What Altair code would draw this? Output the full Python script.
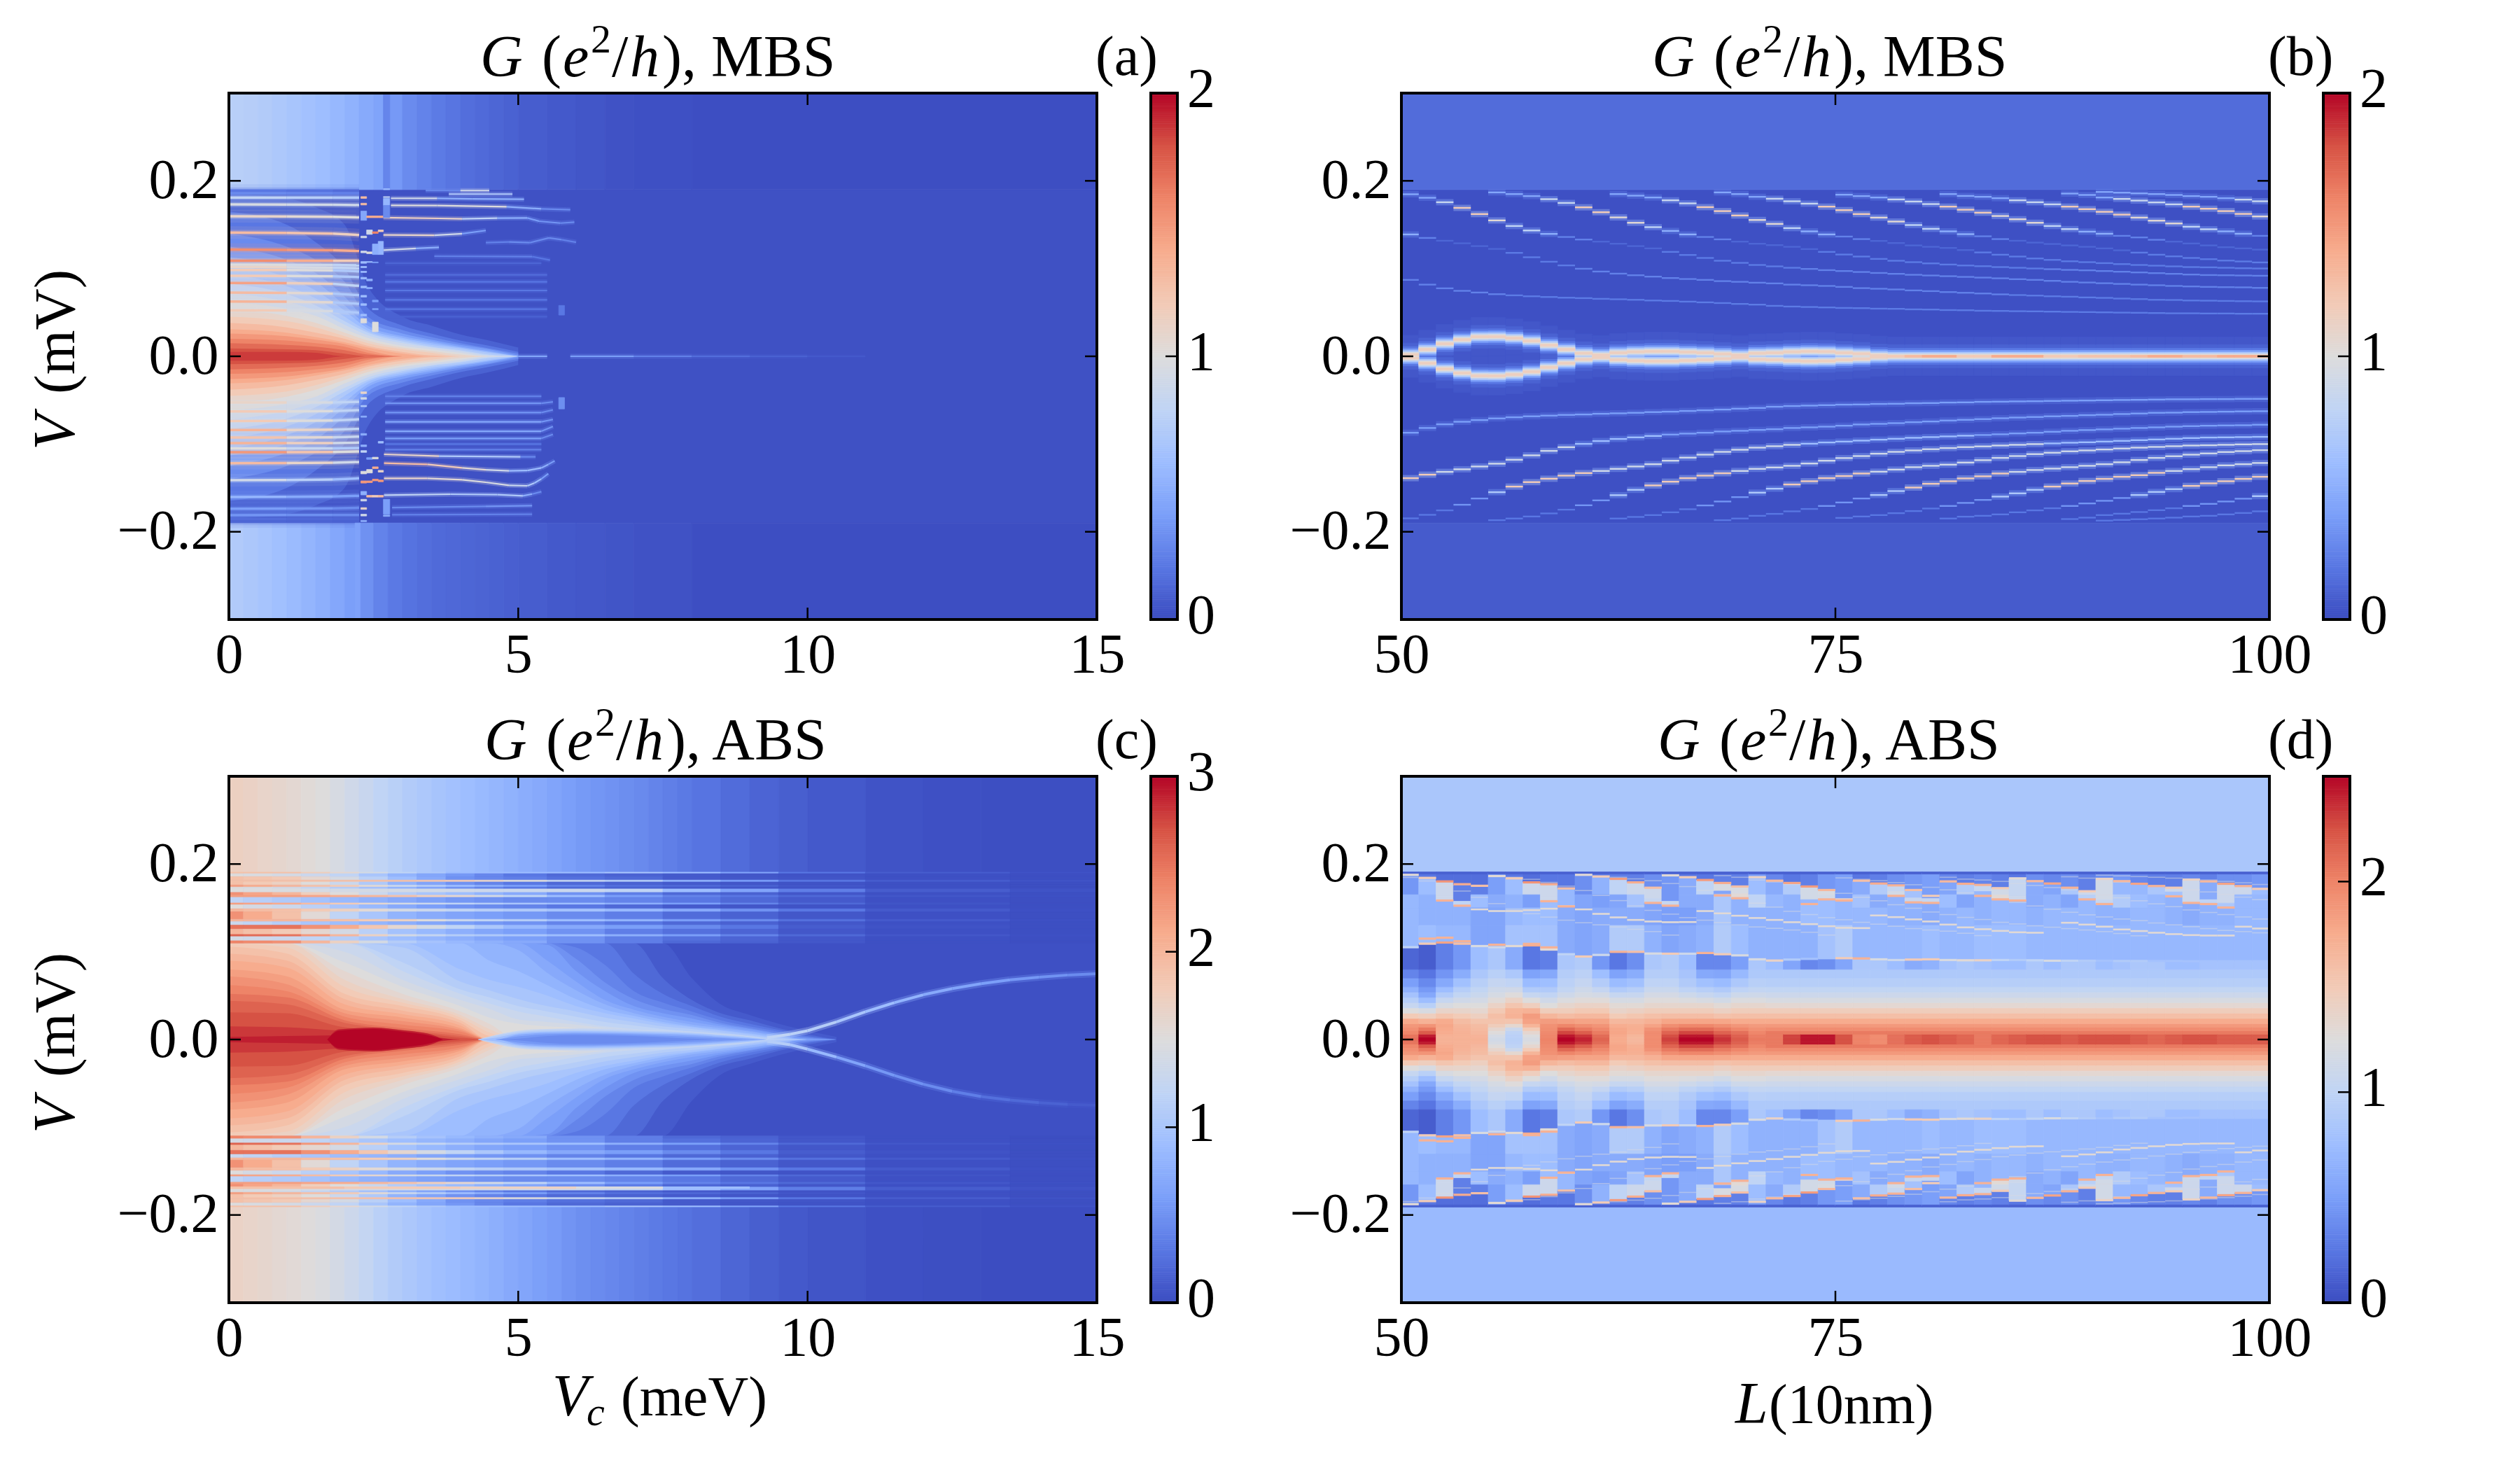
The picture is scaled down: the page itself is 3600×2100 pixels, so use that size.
import altair as alt
import pandas as pd

alt.data_transformers.disable_max_rows()

FONT = "Liberation Serif"
W, H = 1240, 752
COOL = ["#3b4cc0", "#5977e3", "#7b9ff9", "#9ebeff", "#c0d4f5", "#dddcdc",
        "#f2cbb7", "#f7ac8e", "#ee8468", "#d65244", "#b40426"]

# ---------- Panel (a) ----------
a_out_x = [0, .25, .5, .75, 1, 1.25, 1.5, 1.75, 2, 2.25, 2.5, 2.75, 3, 3.25, 3.5, 3.75, 4, 4.25, 4.5, 4.75, 5, 5.5, 6, 6.5, 7, 8, 15]
a_out_top = [.75, .74, .72, .69, .66, .63, .6, .56, .52, .47, .43, .37, .3, .26, .22, .19, .16, .14, .12, .1, .08, .06, .045, .03, .02, .01]
a_out_bot = [.71, .68, .65, .62, .58, .54, .5, .45, .4, .33, .26, .21, .18, .16, .14, .13, .12, .11, .1, .09, .08, .06, .05, .04, .03, .01]
a_iso_x = [0, 1, 1.5, 2, 2.4, 3, 3.5, 4, 4.5, 5]
a_iso = [
    (.1, [185, 180, 170, 150, 80, 45, 35, 25, 18, 10]),
    (.2, [165, 150, 130, 100, 55, 35, 26, 18, 12, 5]),
    (.3, [140, 125, 110, 85, 45, 30, 22, 15, 9, 3]),
    (.4, [125, 110, 95, 68, 40, 26, 19, 13, 8, 1]),
    (.5, [113, 100, 85, 58, 35, 23, 17, 11, 6, 0]),
    (.6, [105, 90, 75, 52, 32, 21, 15, 10, 5, 0]),
    (.7, [93, 80, 66, 45, 29, 19, 13, 9, 4, 0]),
    (.8, [83, 71, 58, 40, 27, 17, 11, 7, 2, 0]),
    (.9, [72, 62, 52, 36, 24, 15, 10, 6, 1, 0]),
    (1.0, [62, 54, 46, 31, 21, 12, 8, 4, 0, 0]),
    (1.1, [53, 46, 38, 27, 18, 10, 6, 2, 0, 0]),
    (1.2, [45, 40, 33, 23, 15, 8, 4, 0, 0, 0]),
    (1.3, [38, 33, 27, 20, 12, 5, 1, 0, 0, 0]),
    (1.4, [31, 27, 22, 16, 10, 3, 0, 0, 0, 0]),
    (1.5, [26, 23, 19, 14, 7, 0, 0, 0, 0, 0]),
    (1.6, [20, 18, 15, 11, 4, 0, 0, 0, 0, 0]),
    (1.7, [15, 13, 11, 7, 2, 0, 0, 0, 0, 0]),
    (1.8, [9, 8, 7, 3, 0, 0, 0, 0, 0, 0]),
    (1.86, [5, 5, 4, 0, 0, 0, 0, 0, 0, 0]),
]
a_left_x = [0, 1, 1.8, 2.25]
a_left = [  # V at four knots, G for three spans
    (188.9, 188.9, 188.9, 188.9, .2, .18, .15), (185.9, 185.9, 185.9, 185.9, .3, .28, .25), (180.9, 180.9, 180.9, 180.9, .8, .75, .7),
    (173.2, 173, 172.8, 172.4, .95, .92, .9), (159.6, 159.4, 159, 158.3, 1.1, 1.05, 1.0), (141, 140.6, 139.8, 138.3, 1.3, 1.25, 1.15),
    (121.6, 121.3, 120.8, 120, 1.55, 1.5, 1.4), (109, 109, 109, 108.8, 1.55, 1.4, 1.2), (104.5, 104.4, 104.2, 103.7, 1.0, .9, .8),
    (101.9, 101.6, 101, 100.3, 1.1, .95, .8), (98.4, 98.3, 98, 96.8, 1.2, 1.0, .7), (91.8, 91.6, 91.2, 90.2, 1.2, 1.0, .7),
    (83.5, 83.3, 82.5, 80.3, 1.45, 1.15, .8), (72.6, 72.3, 71.5, 69.7, 1.3, 1.05, .7), (62.5, 62.2, 61.5, 59.9, 1.35, 1.05, .7), (52.4, 52.2, 51.5, 49.7, 1.2, .95, .7),
    (-52.7, -52.7, -52.6, -51.9, 1.1, .95, .8), (-62.8, -62.8, -62.4, -61.4, 1.2, 1, .8), (-73.9, -73.7, -73.2, -71.8, 1.2, 1, .8),
    (-84, -84, -83.6, -82.7, 1.35, 1.1, .8), (-92.6, -92.6, -92.3, -91.5, 1.25, 1.05, .85), (-99, -99, -98.9, -98.4, 1.35, 1.15, .9),
    (-105, -105, -104.9, -104.5, 1.0, .85, .7), (-109.3, -109.3, -109.1, -108.5, 1.5, 1.25, 1.0), (-121.8, -121.7, -121.2, -120.5, 1.3, 1.1, .9),
    (-141.2, -141.1, -140.5, -139.1, .9, .75, .6), (-160.4, -160.2, -159.8, -159, .55, .47, .4), (-173.7, -173.6, -173.3, -172.6, .4, .35, .3),
    (-181.1, -181, -181, -180.9, .35, .32, .3), (-185.7, -185.7, -185.7, -185.7, .15, .13, .12), (-188.3, -188.3, -188.3, -188.3, .12, .11, .1),
]
a_right = [  # x knots, V knots, G for each span
    ([3.4, 4, 4.5], [188.9, 188.9, 188.9], [.3, .9]),
    ([3.8, 4.9], [184.9, 184.9], [.7]),
    ([2.8, 3.6, 4.2, 5.1], [180.1, 180, 179.5, 179], [.9, .5, .5]),
    ([2.8, 3.6, 4.8, 5.4, 5.9], [172, 171.8, 170.5, 168, 167], [1.0, 1.0, .5, .3]),
    ([2.67, 3.63, 4.03, 4.64, 5.16, 5.36, 5.73, 5.97], [158, 157.2, 156.7, 157.5, 157.7, 154, 151.8, 152.9], [1.15, 1.1, .8, .5, .4, .35, .3]),
    ([2.67, 3.55, 4.03, 4.44], [138.3, 138, 139.7, 143.4], [1.1, .9, .4]),
    ([2.67, 3.23, 3.63], [121, 122.9, 124.2], [.9, .5]),
    ([4.44, 4.84, 5.2, 5.53, 5.75, 6], [129.5, 130.3, 129.5, 134.9, 133, 130], [.25, .3, .3, .3, .25]),
    ([3.55, 5.24, 5.55], [114.1, 113.6, 109.6], [.25, .2]),
    ([2.7, 5.4], [106.1, 106.1], [.12]),
    ([2.7, 5.5], [92.8, 92.8], [.15]),
    ([2.7, 5.5], [84.9, 84.9], [.2]),
    ([2.7, 5.5], [75, 75], [.2]),
    ([2.7, 5.5], [64.4, 64.4], [.2]),
    ([2.7, 5.5], [53.7, 53.7], [.2]),
    ([2.7, 5.5], [45.2, 45.2], [.1]),
    ([2.7, 5.4], [-45.5, -45.5], [.25]),
    ([2.7, 5.4, 5.6], [-53.5, -53.5, -52], [.35, .3]),
    ([2.7, 5.4, 5.6], [-64.1, -64.1, -61], [.35, .3]),
    ([2.7, 5.4, 5.6], [-74.7, -74.7, -72], [.45, .35]),
    ([2.7, 5.4, 5.6], [-85.4, -85.4, -80], [.45, .35]),
    ([2.7, 5.4, 5.6], [-93.6, -93.6, -89], [.4, .3]),
    ([2.7, 5.4], [-100, -100], [.2]),
    ([2.7, 5.4], [-106.4, -106.4], [.25]),
    ([2.68, 3.63, 5.04, 5.3], [-111.7, -113.8, -114.6, -114.6], [1.1, .7, .3]),
    ([2.68, 3.43, 4.03, 4.44, 4.84, 5.16, 5.4, 5.52, 5.63], [-121.8, -123.2, -127.2, -129.3, -130.6, -130.1, -127.2, -123.2, -119.2], [1.3, 1.2, 1.05, .9, .6, .6, .5, .4]),
    ([2.68, 3.43, 4.03, 4.44, 4.84, 5.16, 5.28, 5.4, 5.52], [-139.1, -139.1, -140.7, -143.6, -147.1, -147.6, -144.4, -139.7, -133.8], [1.1, 1.05, 1.0, .95, .85, .7, .6, .4]),
    ([2.68, 3.83, 4.64, 5.08, 5.24, 5.4], [-158.3, -157.2, -157.7, -159.1, -157, -154.3], [.8, .7, .7, .5, .3]),
    ([2.82, 4.44, 5.24], [-172.4, -171, -170.2], [.3, .35]),
    ([2.82, 5.24], [-180.6, -180], [.25]),
    ([5, 5.5], [0, 0], [.45]),
    ([5.9, 7, 8, 9, 10, 11], [0, 0, 0, 0, 0, 0], [.4, .25, .16, .1, .06]),
]
a_patches = [  # x0, x1, V0, V1, G: the spots in the narrow columns near 2.3 to 2.8
    (2.28, 2.38, 180, 182, 1.3), (2.28, 2.38, 172.5, 174.5, 1.3), (2.28, 2.38, 155, 165.5, .45), (2.28, 2.38, 135, 137, .9),
    (2.28, 2.38, 118, 120, .9), (2.28, 2.38, 106, 108, .6), (2.28, 2.38, 101, 102.5, .6), (2.28, 2.38, 95.5, 97, .6),
    (2.28, 2.38, 88, 90, .6), (2.28, 2.38, 78, 80, .6), (2.28, 2.38, 67.5, 69.5, .6), (2.28, 2.38, 58, 60, .6), (2.28, 2.38, 46, 48, .6), (2.28, 2.38, 38, 43, 1.0),
    (2.38, 2.48, 158, 160, 1.4), (2.38, 2.48, 139, 144, .9), (2.38, 2.48, 117, 119, 1.0), (2.38, 2.48, 107, 108, .6), (2.38, 2.48, 86, 88, .5), (2.38, 2.48, 77, 78.5, .5),
    (2.48, 2.58, 158, 160, 1.4), (2.48, 2.58, 140, 142, 1.6), (2.48, 2.58, 116, 128, .5), (2.48, 2.58, 106.5, 107.5, .4), (2.48, 2.58, 62, 64, .4), (2.48, 2.58, 53, 54.5, .4), (2.48, 2.58, 28, 39, 1.0),
    (2.58, 2.67, 158, 160, 1.4), (2.58, 2.67, 142, 144, 1.2), (2.58, 2.67, 116, 131, .55),
    (2.67, 2.78, 190, 300, .27), (2.67, 2.78, 190, 191, .6), (2.67, 2.78, 181, 182, .8), (2.67, 2.78, 172, 180, .55), (2.67, 2.78, 158, 172, .3),
    (2.28, 2.38, -42.5, -40.5, 1.1), (2.28, 2.38, -49, -47, .9), (2.28, 2.38, -57.5, -56, .7), (2.28, 2.38, -69.5, -68, .5), (2.28, 2.38, -90, -88, .5),
    (2.28, 2.38, -103, -101, .5), (2.28, 2.38, -109.5, -107.5, .8), (2.28, 2.38, -134, -131, 1.0), (2.28, 2.38, -144.5, -142, 1.5), (2.28, 2.38, -158, -154, .5),
    (2.28, 2.38, -165, -163, .9), (2.28, 2.38, -174.5, -172.5, 1.1), (2.28, 2.38, -182, -180, .9), (2.28, 2.38, -188.5, -187, .5),
    (2.38, 2.48, -117.5, -115.5, .4), (2.38, 2.48, -133, -129, 1.0), (2.38, 2.48, -144, -142, 1.5), (2.38, 2.48, -160.5, -158.5, 1.3),
    (2.48, 2.58, -117, -115, 1.0), (2.48, 2.58, -128, -126, 1.4), (2.48, 2.58, -142, -140, 1.5), (2.48, 2.58, -160.5, -158.5, 1.2),
    (2.58, 2.67, -99, -97, .6), (2.58, 2.67, -132, -130, 1.1), (2.58, 2.67, -143, -141, 1.5), (2.58, 2.67, -160.5, -158.5, 1.3),
    (2.67, 2.78, -180, -163, .4), (2.67, 2.78, -182.5, -181, .5),
    (2.18, 2.27, -300, -190, .42), (5.7, 5.8, 47, 58, .2), (5.7, 5.8, -60, -47, .32),
]

# ---------- Panel (b) ----------
b_A = [87.1, 81.7, 77.5, 74.6, 72.7, 70.8, 69.5, 68.4, 67.6, 66.8, 66.3, 65.5, 65, 64.4, 63.6, 63.1, 62.3, 61.5, 60.7, 59.7, 58.9, 57.5, 56.7, 56.2, 55.7, 55.1, 54.9, 54.3, 54.1, 53.5, 53.3, 52.7, 52.5, 51.9, 51.7, 51.4, 51.2, 50.9, 50.6, 50.4, 50.1, 49.8, 49.6, 49.3, 49, 49, 48.8, 48.8, 48.5, 48.5]
b_B = [138.9, 134.9, 131.7, 128.8, 125.6, 122.4, 117.9, 112.9, 107.8, 103.6, 99.8, 96.6, 94.2, 92.4, 90.8, 89.2, 88.1, 87.1, 85.7, 84.9, 83.9, 83.1, 81.7, 81, 80.2, 79.1, 77.7, 77, 76.2, 75.1, 74.3, 73.2, 72.4, 71.6, 70.6, 69.8, 69.2, 68.4, 67.9, 67.1, 66.6, 65.8, 65.2, 64.4, 64.2, 63.6, 63.4, 63.1, 62.8, 62.6]
b_1 = [184.7, 180.7, 175.6, 169.2, 162.1, 154.9, 148.5, 143.4, 139.5, 136, 133.1, 130.7, 128.3, 125.6, 123, 119, 115.5, 112.1, 108.9, 106.5, 104.1, 102.5, 100.9, 99.6, 98.2, 97.2, 96.1, 95, 94, 92.9, 92.1, 91.3, 90.5, 89.7, 88.9, 87.9, 87.1, 86, 84.9, 84.1, 83.3, 82.5, 81.7, 81, 80.2, 79.6, 79.1, 78.8, 78.6, 78]
b_2 = [186.8, 184.9, 182.6, 179.1, 174.8, 169.8, 164.2, 158.3, 152.2, 147.2, 142.9, 138.9, 136, 133.3, 130.7, 128.3, 126.7, 124.8, 122.2, 119, 116, 113.7, 111, 108.9, 107.3, 105.9, 104.6, 103.5, 102.7, 101.7, 100.9, 100.1, 99.3, 98.5, 98, 97.2, 96.4, 95.6, 94.8, 94, 93.2, 92.6, 92.4, 92.1, 91.8]
b_3 = [184.9, 183.1, 181, 177.8, 174.3, 170, 165.5, 160.5, 155.4, 150.9, 146.1, 142.4, 138.9, 136.5, 133.6, 131.5, 129.1, 126.4, 124.8, 123.5, 121.1, 118.4, 115.8, 113.7, 111.5, 109.9, 108.3, 107.3, 106.2, 105.1, 104.1, 103.3, 102.5, 101.7, 101.4, 100.9, 100.4, 100.1]
b_4 = [186.8, 184.9, 181.8, 179.6, 176.7, 174, 170.6, 166.6, 162.1, 158.1, 153.6, 149.6, 145.3, 142.4, 139.2, 136.8, 133.6, 131.7, 129.6, 128, 126.4, 124.8, 123, 120.8, 118.2, 115.8, 113.9, 112.1, 110.7, 109.1, 108.1, 107]
b_5 = [184.2, 182.6, 181, 178.8, 176.4, 173.5, 170.6, 167.1, 163.7, 159.9, 156.2, 152.2, 148.5, 145, 142.1, 139.7, 137.3, 135.5, 132.8, 130.7, 128.6, 126.4, 124.3, 123, 121.6]
b_6 = [184.9, 182.8, 181.8, 180.2, 177.8, 175.6, 173.2, 170.6, 167.7, 164.7, 161.5, 158.1, 154.6, 151.4, 147.7, 144.8, 142.4, 139.7, 137.3]
b_7 = [185.5, 183.9, 181, 179.4, 177.5, 175.4, 173.2, 170.6, 168.2, 165.5, 162.3, 159.4]
b_8 = [187.3, 186.5, 185.7, 184.9, 183.9, 182.6, 181.8, 180.2, 178.6, 176.7]
b_levels = [(50, b_A), (50, b_B), (50, b_1), (55, b_2), (62, b_3), (68, b_4), (75, b_5), (81, b_6), (88, b_7), (90, b_8)]
# brightness read in energy bands: lower limit of band, G
b_up_bands = [(180, .45), (172, .85), (160, 1.2), (150, 1.05), (143, .8), (138, .5), (132, .25), (120, .12), (100, .22), (70, .25), (0, .22)]
b_lo_bands = [(172, .2), (160, .35), (150, .7), (132, 1.2), (100, .9), (90, .6), (0, .4)]
b_split = [2, 7.8, 14.4, 19, 22.2, 22.4, 20.8, 17.6, 12.6, 7.8, 3.5, 1.4, 4, 5.1, 5.6, 5.6, 4.8, 4, 2.7, 1.3, 3.5, 4, 5.1, 5.6, 5.3, 4, 2.9, 1]
b_peak = [1.2, 1.3, 1.4, 1.4, 1.2, 1.2, 1.4, 1.4, 1.4, 1.2, 1.2, 1.25, 1.25, 1.25, 1.3, 1.4, 1.4, 1.3, 1.3, 1.4, 1.4, 1.4]
b_halo = [(22, .05), (13, .1), (9, .2), (6.5, .4), (4.5, .7), (2.6, 1.0), (1.2, 1.15)]

# ---------- Panel (c) ----------
c_out_x = [0, .25, .5, .75, 1, 1.25, 1.5, 1.75, 2, 2.25, 2.5, 2.75, 3, 3.25, 3.5, 3.75, 4, 4.25, 4.5, 4.75, 5, 5.25, 5.5, 5.75, 6, 6.25, 6.5, 6.75, 7, 7.25, 7.5, 7.75, 8, 8.5, 9, 9.5, 10, 11, 12, 13, 15]
c_out_top = [1.72, 1.69, 1.65, 1.62, 1.58, 1.54, 1.5, 1.43, 1.35, 1.28, 1.2, 1.14, 1.08, 1.03, .98, .94, .9, .86, .82, .78, .74, .7, .65, .6, .56, .53, .5, .47, .44, .4, .36, .32, .28, .22, .17, .13, .09, .05, .03, .02]
c_out_bot = [1.68, 1.65, 1.62, 1.58, 1.55, 1.51, 1.47, 1.4, 1.32, 1.24, 1.15, 1.08, 1.02, .97, .92, .88, .84, .8, .75, .7, .66, .61, .57, .52, .48, .45, .42, .39, .36, .33, .3, .27, .24, .18, .13, .09, .06, .03, .02, .01]
c_iso_x = [0, 1, 2, 3, 4, 4.5, 5, 5.5, 6, 6.5, 7, 7.5, 8, 8.5, 9, 9.5, 10, 10.5]
c_iso = [
    (.1, [120, 120, 120, 120, 120, 120, 120, 120, 120, 120, 120, 115, 70, 40, 28, 18, 10, 3]),
    (.2, [120, 120, 120, 120, 120, 120, 120, 120, 120, 120, 110, 70, 45, 30, 22, 13, 6, 0]),
    (.3, [120, 120, 120, 120, 120, 120, 120, 120, 120, 115, 75, 52, 38, 26, 18, 11, 4, 0]),
    (.4, [120, 120, 120, 120, 120, 120, 120, 120, 105, 85, 55, 42, 32, 22, 15, 9, 3, 0]),
    (.5, [120, 120, 120, 120, 120, 120, 120, 120, 92, 65, 46, 35, 28, 19, 13, 7, 2, 0]),
    (.6, [120, 120, 120, 120, 120, 120, 120, 108, 78, 55, 38, 30, 24, 17, 12, 6, 1, 0]),
    (.7, [120, 120, 120, 120, 120, 120, 115, 90, 66, 45, 34, 26, 20, 15, 10, 5, 0, 0]),
    (.8, [120, 120, 120, 120, 120, 115, 102, 76, 56, 40, 30, 23, 17, 13, 9, 4, 0, 0]),
    (.9, [120, 120, 120, 120, 110, 90, 78, 62, 46, 34, 27, 20, 15, 11, 7, 3, 0, 0]),
    (1.0, [120, 120, 120, 120, 80, 68, 60, 50, 38, 30, 24, 18, 14, 10, 6, 2, 0, 0]),
    (1.1, [120, 120, 120, 105, 66, 56, 46, 38, 32, 25, 20, 15, 12, 8, 4.5, 1, 0, 0]),
    (1.2, [120, 120, 120, 88, 57, 48, 38, 32, 26, 20, 16, 12, 9, 6, 3, 0, 0, 0]),
    (1.3, [120, 120, 110, 78, 52, 41, 32, 26, 20, 15, 12, 9, 6, 3, 0, 0, 0, 0]),
    (1.4, [120, 120, 100, 68, 45, 35, 23, 20, 17, 13, 10, 7, 5, 3, 0, 0, 0, 0]),
    (1.5, [120, 120, 88, 60, 38, 25, 18, 15, 13, 0, 0, 0, 0, 0, 0, 0, 0, 0]),
    (1.6, [120, 120, 78, 52, 32, 18, 0, 0, 0, 0, 0, 0, 0, 0, 0, 0, 0, 0]),
    (1.7, [120, 113, 68, 46, 28, 12, 0, 0, 0, 0, 0, 0, 0, 0, 0, 0, 0, 0]),
    (1.8, [113, 105, 60, 42, 25, 8, 0, 0, 0, 0, 0, 0, 0, 0, 0, 0, 0, 0]),
    (1.9, [106, 98, 52, 38, 22, 4, 0, 0, 0, 0, 0, 0, 0, 0, 0, 0, 0, 0]),
    (2.0, [98, 90, 46, 33, 19, 0, 0, 0, 0, 0, 0, 0, 0, 0, 0, 0, 0, 0]),
    (2.1, [90, 82, 40, 29, 16, 0, 0, 0, 0, 0, 0, 0, 0, 0, 0, 0, 0, 0]),
    (2.2, [80, 72, 34, 25, 13, 0, 0, 0, 0, 0, 0, 0, 0, 0, 0, 0, 0, 0]),
    (2.3, [72, 63, 30, 21, 11, 0, 0, 0, 0, 0, 0, 0, 0, 0, 0, 0, 0, 0]),
    (2.4, [62, 55, 26, 17, 9, 0, 0, 0, 0, 0, 0, 0, 0, 0, 0, 0, 0, 0]),
    (2.5, [52, 48, 22, 13, 6, 0, 0, 0, 0, 0, 0, 0, 0, 0, 0, 0, 0, 0]),
    (2.6, [44, 40, 19, 11, 4, 0, 0, 0, 0, 0, 0, 0, 0, 0, 0, 0, 0, 0]),
    (2.7, [31, 30, 14, 10, 2, 0, 0, 0, 0, 0, 0, 0, 0, 0, 0, 0, 0, 0]),
    (2.8, [15, 14, 10, 9, 0, 0, 0, 0, 0, 0, 0, 0, 0, 0, 0, 0, 0, 0]),
    (2.9, [3, 4, 5, 6, 0, 0, 0, 0, 0, 0, 0, 0, 0, 0, 0, 0, 0, 0]),
]
c_core_x = [1.7, 1.9, 2.5, 3, 3.5, 3.7]
c_core = [(2.9, [0, 11.5, 13.5, 10.5, 5.5, 0]), (3.0, [0, 10, 12, 9, 4, 0])]
c_hole_x = [4.3, 4.6, 5, 5.5, 6, 7, 8, 8.5, 9, 9.3]
c_hole = [
    (1.25, [0, 5, 10, 12, 12.5, 11.5, 9, 6.5, 3.5, 0]),
    (1.1, [0, 4, 8.5, 10.5, 11, 10, 8, 5.5, 3, 0]),
    (.9, [0, 2, 7, 9, 9.5, 8.5, 6.5, 4.5, 2, 0]),
    (.7, [0, 0, 5.5, 7.5, 8, 7, 5, 3, 1, 0]),
    (.55, [0, 0, 3.5, 6, 6.5, 5.5, 3, 1.5, 0, 0]),
    (.45, [0, 0, 1, 4, 5, 4, 1, 0, 0, 0]),
]
c_edges = [0, .25, .75, 1.25, 1.75, 2.25, 2.75, 3.25, 3.75, 4.25, 4.75, 5.5, 6.5, 7.5, 8.5, 9.5, 11, 13.5, 15]
c_rows = [
    (190.7, 189, [1.9, 1.9, 1.9, 1.75, 1.6, 1.4, 1.2, 1.05, .9, .9, .9, .9, 1.0, .9, .65, .3, .12, .05]),
    (189, 185.7, [1.5, 1.45, 1.4, 1.3, 1.2, 1.0, .8, .67, .55, .42, .3, .2, .15, .1, .07, .05, .03, .02]),
    (185.7, 181.7, [1.9, 1.85, 1.8, 1.6, 1.4, 1.15, .9, .7, .5, .42, .35, .25, .2, .1, .08, .06, .03, .02]),
    (181.7, 179.5, [1.9, 1.9, 1.9, 1.9, 1.9, 1.9, 1.9, 1.85, 1.8, 1.65, 1.5, 1.25, 1.1, .8, .6, .3, .12, .05]),
    (179.5, 176, [1.9, 1.8, 1.7, 1.5, 1.3, 1.05, .8, .65, .5, .4, .3, .2, .15, .1, .07, .05, .03, .02]),
    (176, 173.7, [2.2, 2.1, 2.0, 1.9, 1.8, 1.55, 1.3, 1.1, .9, .75, .6, .4, .25, .2, .15, .08, .03, .02]),
    (173.7, 171.6, [1.5, 1.45, 1.4, 1.25, 1.1, .95, .8, .65, .5, .4, .3, .2, .15, .1, .07, .05, .03, .02]),
    (171.6, 167.6, [1.5, 1.48, 1.45, 1.42, 1.4, 1.4, 1.4, 1.38, 1.35, 1.32, 1.3, 1.3, 1.2, .9, .65, .35, .12, .05]),
    (167.6, 164.4, [2.3, 2.15, 2.0, 1.75, 1.5, 1.3, 1.1, 1.0, .9, .8, .7, .5, .35, .2, .15, .08, .03, .02]),
    (164.4, 162, [2.2, 2.2, 2.2, 2.15, 2.1, 2.0, 1.9, 1.75, 1.6, 1.4, 1.2, .9, .6, .4, .3, .2, .08, .03]),
    (162, 155.6, [1.2, 1.12, 1.05, .95, .85, .77, .7, .62, .55, .5, .45, .45, .4, .3, .2, .1, .03, .02]),
    (155.6, 153.5, [2.2, 2.15, 2.1, 1.95, 1.8, 1.6, 1.4, 1.3, 1.2, 1.1, 1, .9, .75, .6, .4, .2, .06, .02]),
    (153.5, 149, [1.5, 1.4, 1.3, 1.15, 1, .85, .7, .6, .5, .45, .4, .3, .2, .1, .07, .05, .03, .02]),
    (149, 145.5, [2, 1.95, 1.9, 1.8, 1.7, 1.55, 1.4, 1.3, 1.2, 1.12, 1.05, .95, .85, .7, .5, .3, .1, .03]),
    (145.5, 137, [2.3, 2.1, 1.9, 1.55, 1.2, 1, .8, .72, .65, .6, .55, .45, .35, .22, .15, .08, .03, .02]),
    (137, 134.3, [2, 2, 2, 1.95, 1.9, 1.8, 1.7, 1.5, 1.3, 1.2, 1.1, .9, .8, .6, .45, .25, .1, .03]),
    (134.3, 130.3, [1.3, 1.2, 1.1, 1, .9, .82, .75, .67, .6, .55, .5, .4, .3, .2, .15, .08, .03, .02]),
    (130.3, 125.8, [2.5, 2.5, 2.5, 2.3, 2.1, 1.85, 1.6, 1.4, 1.2, 1.02, .85, .7, .6, .45, .3, .12, .05, .02]),
    (125.8, 119.7, [2, 1.9, 1.8, 1.6, 1.4, 1.15, .95, .85, .75, .67, .6, .5, .35, .25, .17, .08, .03, .02]),
    (119.7, 117.3, [2.6, 2.55, 2.5, 2.25, 2, 1.7, 1.4, 1.25, 1.1, 1.05, 1, .9, .75, .6, .4, .2, .08, .03]),
    (117.3, 112.5, [1.4, 1.35, 1.3, 1.2, 1.1, 1, .9, .82, .75, .67, .6, .5, .35, .25, .17, .08, .03, .02]),
    (112.5, 109.9, [2.4, 2.35, 2.3, 2, 1.7, 1.4, 1.1, .97, .85, .77, .7, .5, .35, .2, .15, .08, .03, .02]),
]
c_up = ([9.3, 9.7, 10, 10.5, 11, 11.5, 12, 12.5, 13, 13.5, 14, 14.5, 15],
        [2, 6, 10, 20, 31.6, 42, 51, 58, 63.6, 68, 71, 73.5, 75],
        [1.2, 1.15, 1.1, 1.0, .9, .8, .7, .65, .6, .55, .5, .45])
c_dn = ([9.3, 9.7, 10, 10.5, 11, 11.5, 12, 12.5, 13, 13.5, 14, 14.5, 15],
        [-2, -6, -11, -20, -30, -41, -51, -59, -65, -69, -72, -74, -75],
        [1.1, 1.0, .85, .65, .55, .5, .45, .35, .25, .2, .15, .1])
c_extra = ([0, 2, 4, 6, 7.5, 9], [-169, -169, -169, -169, -169, -169], [1.9, 1.8, 1.7, 1.45, .9])

# ---------- Panel (d) ----------
d_edges = [0, 3, 6, 10, 14, 18, 24, 30, 36, 42, 48, 54, 60, 70, 80]
d_centre = {  # one G per |V| row of d_edges (the last row runs to the break), L50 to L70
    50: [2.1, 2.07, 1.98, 1.93, 1.88, 1.76, 1.5, 1.25, 1.05, .93, .8, .65, .5, .33, .15],
    51: [2.5, 2.42, 2.2, 2.05, 1.9, 1.7, 1.45, 1.2, .95, .75, .57, .47, .36, .24, .1],
    52: [1.7, 1.71, 1.74, 1.76, 1.78, 1.75, 1.55, 1.38, 1.2, 1.05, .9, .75, .58, .44, .3],
    53: [1.7, 1.7, 1.7, 1.69, 1.67, 1.62, 1.5, 1.37, 1.25, 1.13, 1.02, .93, .78, .61, .45],
    54: [1.7, 1.69, 1.66, 1.64, 1.62, 1.56, 1.44, 1.34, 1.25, 1.16, 1.08, 1.02, .94, .85, .75],
    55: [1.15, 1.18, 1.26, 1.35, 1.47, 1.56, 1.6, 1.52, 1.4, 1.28, 1.18, 1.12, 1.04, .95, .85],
    56: [.95, .96, .99, 1.1, 1.33, 1.55, 1.7, 1.68, 1.55, 1.4, 1.26, 1.14, 1.01, .86, .6],
    57: [1.2, 1.24, 1.34, 1.5, 1.68, 1.81, 1.85, 1.7, 1.45, 1.25, 1.05, .9, .73, .53, .25],
    58: [2.0, 1.99, 1.96, 1.94, 1.92, 1.85, 1.67, 1.47, 1.25, 1.13, 1.01, .89, .76, .58, .3],
    59: [2.5, 2.44, 2.29, 2.14, 1.99, 1.83, 1.62, 1.47, 1.35, 1.23, 1.12, 1.03, .97, .92, .85],
    60: [2.4, 2.34, 2.19, 2.05, 1.94, 1.8, 1.65, 1.52, 1.4, 1.28, 1.18, 1.12, 1.04, .97, .9],
    61: [2.15, 2.12, 2.04, 1.97, 1.9, 1.8, 1.65, 1.52, 1.4, 1.28, 1.16, 1.04, .91, .76, .45],
    62: [1.75, 1.76, 1.79, 1.78, 1.74, 1.65, 1.5, 1.38, 1.3, 1.18, 1.05, .9, .73, .53, .25],
    63: [1.65, 1.67, 1.72, 1.73, 1.72, 1.66, 1.54, 1.42, 1.3, 1.18, 1.06, .94, .78, .61, .4],
    64: [1.95, 1.95, 1.95, 1.91, 1.81, 1.71, 1.59, 1.47, 1.35, 1.26, 1.17, 1.08, .99, .92, .85],
    65: [2.3, 2.26, 2.16, 2.05, 1.94, 1.79, 1.61, 1.47, 1.35, 1.26, 1.17, 1.08, .99, .92, .9],
    66: [2.5, 2.44, 2.29, 2.12, 1.98, 1.79, 1.61, 1.47, 1.35, 1.23, 1.11, .99, .89, .82, .75],
    67: [2.5, 2.44, 2.29, 2.12, 1.98, 1.79, 1.61, 1.47, 1.35, 1.2, 1.06, .94, .78, .58, .35],
    68: [2.35, 2.3, 2.17, 2.05, 1.94, 1.78, 1.57, 1.42, 1.3, 1.15, 1.01, .89, .73, .56, .35],
    69: [2.2, 2.17, 2.1, 1.98, 1.89, 1.75, 1.6, 1.47, 1.35, 1.23, 1.11, .99, .86, .71, .5],
    70: [2.05, 2.03, 1.98, 1.92, 1.86, 1.75, 1.6, 1.47, 1.35, 1.23, 1.12, 1.03, .94, .87, .85],
}
d_tail = [2.05, 1.95, 1.87, 1.75, 1.6, 1.47, 1.32, 1.2, 1.1, 1.02, .93, .87]  # rows 2 to 13 for L71 to L99
d_peak = [2.05, 2.3, 2.45, 2.45, 2.25, 2.0, 1.95, 2.1, 2.2, 2.25, 2.2, 2.15, 2.05, 2.15, 2.2, 2.25, 2.25, 2.2, 2.25, 2.25, 2.25, 2.2, 2.15, 2.2, 2.25, 2.25, 2.2, 2.2, 2.2]
d_last = [.75, .55, .35, .4, .55, .85, .85, .75, .6, .65, .8, .85, .8, .75, .75, .85, .75, .85, .85, .75, .8, .85, .85, .75, .75, .8, .8, .8, .8]
d_break = [105.2, 109.2, 110.5, 109.2, 106.5, 105.2, 106.5, 107.3, 102.5, 97.2, 94.6, 96.4, 99.9, 99.9, 98, 97.8, 97.8, 98.6, 97.2, 95.9, 91.4, 90, 91.1, 91.9, 92.7, 92.7, 92.4, 91.4, 90.6, 91.1, 91.4, 90.6, 90.3, 90.3, 90.6, 90.6, 90.3, 89.8, 89.8, 89.8, 89.8, 89.5, 89.5, 89.5, 89.5, 89.2, 89.2, 89.2, 89.2, 89.2]
d_break_g = [1.0, 1.5, 1.8, 1.6, 1.2, 1.1, 1.3, 1.75, 1.3, 1.0, 1.5, 1.1, 1.7, 1.6, 1.2, 1.5, 1.1, 1.7, 1.5, 1.2, 1.2, 1.4, .9, .8, .8, 1.5, 1.7, 1.2, 1.1, 1.5, 1.5, 1.2, 1.3, 1.4, 1.0, .9, 1.0, 1.2, 1.0, .9, .8, .9, .9, .8, .8, .8, .8, .8, .8, .8]
d_band = [  # dark top, below top line, next, next, lowest band down to the break
    [.5, .45, .7, .7, .7], [.25, .75, .65, .65, .75], [.2, 1.1, 1.1, .65, .7], [.2, .3, 1.0, .65, .7], [.2, .3, .75, .55, .55],
    [.45, .5, .6, .55, .55], [.25, .75, .65, .7, .8], [.2, 1.1, .5, .75, .8], [.25, 1.1, 1.1, .75, .8], [.25, .7, .7, .6, .6],
    [.45, .4, .55, .55, .55], [.3, .65, .5, .6, .6], [.3, 1.0, .55, .6, .9], [.3, 1.1, .8, .6, .9], [.4, 1.1, 1.05, .55, .65],
    [.55, .45, 1.05, .5, .55], [.25, .6, .6, .5, .6], [.25, 1.0, .6, .6, .65], [.3, 1.2, .55, .85, .9], [.3, 1.2, 1.3, .65, .75],
    [.5, .75, 1.0, .65, .65], [.35, .6, .7, .65, .65], [.25, .9, .65, .65, .65], [.3, 1.15, .7, .75, .65], [.45, 1.2, 1.15, .75, .8],
    [.5, .9, .8, .7, .9], [.25, .6, .8, .7, .7], [.3, .9, .6, .7, .7], [.4, 1.05, 1.15, .65, .7], [.45, .8, 1.05, .65, .7],
    [.5, .5, 1.05, .6, .75], [.35, .55, .75, .65, .7], [.3, .9, .55, .7, .7], [.35, 1.05, .7, .65, .75], [.3, 1.15, 1.3, .7, .75],
    [.25, 1.05, 1.1, .7, .75], [.4, .6, .6, .65, .7], [.35, .55, .65, .7, .7], [.4, .85, .55, .7, .7], [.3, 1.1, .95, .7, .7],
    [.4, 1.15, 1.05, .65, .7], [.45, .7, .9, .65, .7], [.35, .7, .75, .7, .7], [.3, .85, .7, .7, .7], [.3, 1.1, .8, .65, .7],
    [.35, 1.1, 1.1, .6, .7], [.3, .6, 1.0, .65, .7], [.4, 1.1, .85, .65, .7], [.4, 1.1, .7, .7, .7], [.45, .75, .7, .7, .7],
]
d_top = [187.7, 184.2, 180.2, 177, 175.2, 186.3, 183.7, 179.1, 177, 172.2, 187.7, 185.8, 183.1, 179.1, 173, 187.1, 185, 181.8, 178.4, 174.4, 185, 181, 178.4, 174.4, 170.4, 159.7, 181, 177.8, 175.7, 170.4, 163.7, 180.2, 177.5, 176.2, 172.5, 183.7, 180.5, 177.8, 173, 169, 183.1, 180.5, 177.5, 174.9, 173, 182.3, 180.2, 177.5, 174.9, 171.7]
d_top_g = [1.3, 1.5, 1.9, 1.75, 1.6, 1.3, 1.5, 1.9, 1.75, 1.6, 1.3, 1.5, 1.85, 1.75, 1.6, 1.3, 1.5, 1.85, 1.75, 1.6, 1.4, 1.65, 1.8, 1.85, 1.65, 1.4, 1.6, 1.75, 1.7, 1.6, 1.5, 1.65, 1.75, 1.7, 1.5, 1.3, 1.65, 1.8, 1.7, 1.5, 1.4, 1.65, 1.8, 1.7, 1.5, 1.4, 1.65, 1.8, 1.7, 1.5]
d_mid = {54: 148.3, 55: 146.4, 56: 146.4, 57: 147.5, 58: 149.1, 59: 152, 60: 148.3, 61: 143.2, 62: 139.2, 63: 136.3, 64: 134.5, 65: 133.7, 66: 133.9, 67: 146.4, 68: 143.8, 69: 141.1, 70: 138.5, 71: 136.3, 72: 133.7, 73: 131.5, 74: 129.1, 75: 127.3, 76: 127, 77: 141.4, 78: 139.5, 79: 136.9, 80: 134.5, 81: 131, 82: 127.8, 83: 125.7, 84: 123.8, 85: 122.2, 86: 121.7, 88: 133.1, 89: 131, 90: 128.6, 91: 125.4, 92: 123.6, 93: 121.7, 94: 120.1, 95: 119, 96: 118.5, 97: 118.5, 98: 128.6, 99: 126.5}
d_low = {51: 115, 52: 116, 53: 112, 55: 108, 57: 109, 58: 105}
d_second = {52: 158.4, 53: 152.5, 58: 157.6, 59: 151.7, 64: 155.7, 65: 152.5, 68: 164.2, 69: 161, 73: 154.4, 74: 159.7, 75: 158.4, 78: 163.7, 79: 156.3, 80: 155.7, 83: 163.7, 84: 159.7, 85: 158.4, 89: 159.7, 90: 154.4, 94: 163.2, 95: 155.7, 96: 154.4, 97: 150.4}

panel_titles = {"a": ("MBS", 359), "b": ("MBS", 358), "c": ("ABS", 365), "d": ("ABS", 366)}
one = pd.DataFrame({"a": [0]})


def cscale(top):
    return alt.Scale(domain=[top * i / 10 for i in range(11)], range=COOL, interpolate="rgb", clamp=True)


def rects(recs):
    return pd.DataFrame(recs, columns=["x", "x2", "y", "y2", "g"])


def poly(xs, vs, gs):
    return [(xs[i], xs[i + 1], vs[i] / 1000, vs[i + 1] / 1000, gs[i]) for i in range(len(xs) - 1)]


def band_g(v, bands):
    for lim, g in bands:
        if abs(v) >= lim:
            return g
    return bands[-1][1]


def txt(s, x, y, size=84, style="normal", angle=0, align="left", baseline="alphabetic"):
    return alt.Chart(one).mark_text(text=s, fontSize=size, font=FONT, fontStyle=style, angle=angle,
                                    align=align, baseline=baseline, color="black").encode(x=alt.value(x), y=alt.value(y))


class Panel:
    def __init__(self, xdom, xticks, vmax):
        self.xs = alt.Scale(domain=xdom, nice=False, zero=False)
        self.ys = alt.Scale(domain=[-.3, .3], nice=False, zero=False)
        self.cs = cscale(vmax)
        self.xticks = xticks
        self.xaxis = alt.Axis(values=xticks, title=None, grid=False, domain=False, ticks=False, labelFont=FONT,
                              labelFontSize=80, labelColor="black", labelPadding=12, format="d", labelFlush=False, labelOverlap=False, labelBound=False)
        self.yaxis = alt.Axis(values=[-.2, 0, .2], title=None, grid=False, domain=False, ticks=False, labelFont=FONT,
                              labelFontSize=80, labelColor="black", labelPadding=15, format=".1f", labelOverlap=False, labelBound=False)
        self.layers = []

    def x(self):
        return alt.X("x:Q", scale=self.xs, axis=self.xaxis)

    def y(self):
        return alt.Y("y:Q", scale=self.ys, axis=self.yaxis)

    def c(self):
        return alt.Color("g:Q", scale=self.cs, legend=None)

    def rect(self, recs):
        self.layers.append(alt.Chart(rects(recs)).mark_rect(clip=True, strokeWidth=.8).encode(
            x=self.x(), x2="x2:Q", y=self.y(), y2="y2:Q", color=self.c(),
            stroke=alt.Stroke("g:Q", scale=self.cs, legend=None)))

    def rule(self, recs, width, opacity=1.0):
        self.layers.append(alt.Chart(rects(recs)).mark_rule(clip=True, strokeWidth=width, opacity=opacity).encode(
            x=self.x(), x2="x2:Q", y=self.y(), y2="y2:Q", color=self.c()))

    def iso(self, xs, g, hw):
        df = pd.DataFrame({"x": xs, "y": [v / 1000 for v in hw], "y2": [-v / 1000 for v in hw], "g": g})
        self.layers.append(alt.Chart(df).mark_area(clip=True, interpolate="monotone").encode(
            x=self.x(), y=self.y(), y2="y2:Q", color=self.c()))

    def finish(self, key, xlabel_parts=None):
        yt = pd.DataFrame({"y": [-.2, 0, .2]})
        xt = pd.DataFrame({"x": self.xticks})
        L = self.layers
        ytick = alt.Y("y:Q", scale=self.ys, axis=self.yaxis)
        xtick = alt.X("x:Q", scale=self.xs, axis=self.xaxis)
        L.append(alt.Chart(yt).mark_rule(strokeWidth=2.5, color="black").encode(y=ytick, x=alt.value(0), x2=alt.value(17)))
        L.append(alt.Chart(yt).mark_rule(strokeWidth=2.5, color="black").encode(y=ytick, x=alt.value(W - 17), x2=alt.value(W)))
        L.append(alt.Chart(xt).mark_rule(strokeWidth=2.5, color="black").encode(x=xtick, y=alt.value(0), y2=alt.value(17)))
        L.append(alt.Chart(xt).mark_rule(strokeWidth=2.5, color="black").encode(x=xtick, y=alt.value(H - 17), y2=alt.value(H)))
        L.append(alt.Chart(one).mark_rect(fillOpacity=0, stroke="black", strokeWidth=4).encode(
            x=alt.value(0), x2=alt.value(W), y=alt.value(0), y2=alt.value(H)))
        word, x0 = panel_titles[key]
        by = -24
        L += [txt("G", x0, by, style="italic"), txt("(", x0 + 88, by), txt("e", x0 + 118, by, style="italic"),
              txt("2", x0 + 158, by - 34, size=58), txt("/", x0 + 188, by), txt("h", x0 + 214, by, style="italic"),
              txt("), " + word, x0 + 260, by), txt("(" + key + ")", W - 2, by - 2, size=80)]
        if key in "ac":
            L += [txt("V", -221, 510, style="italic", angle=270), txt("(mV)", -221, 252, angle=270, align="right", size=82)]
        if xlabel_parts:
            L += xlabel_parts
        return alt.layer(*L).properties(width=W, height=H)


def cbar(vmax, ticks):
    steps = 240
    recs = [(0, 1, vmax * i / steps, vmax * (i + 1) / steps, vmax * (i + .5) / steps) for i in range(steps)]
    ys = alt.Scale(domain=[0, vmax], nice=False, zero=False)
    cs = cscale(vmax)
    base = alt.Chart(rects(recs)).mark_rect(strokeWidth=.8).encode(
        x=alt.value(0), x2=alt.value(38), y=alt.Y("y:Q", scale=ys, axis=None), y2="y2:Q",
        color=alt.Color("g:Q", scale=cs, legend=None), stroke=alt.Stroke("g:Q", scale=cs, legend=None))
    tdf = pd.DataFrame({"y": ticks, "s": [str(t) for t in ticks]})
    tk = alt.Chart(tdf).mark_rule(strokeWidth=2.5, color="black").encode(
        y=alt.Y("y:Q", scale=ys, axis=None), x=alt.value(21), x2=alt.value(38))
    lb = alt.Chart(tdf).mark_text(font=FONT, fontSize=80, align="left", baseline="middle", dy=-4, color="black").encode(
        y=alt.Y("y:Q", scale=ys, axis=None), x=alt.value(52), text="s:N")
    fr = alt.Chart(one).mark_rect(fillOpacity=0, stroke="black", strokeWidth=4).encode(
        x=alt.value(0), x2=alt.value(38), y=alt.value(0), y2=alt.value(H))
    return alt.layer(base, tk, lb, fr).properties(width=38, height=H)


def spacer():
    return alt.Chart(one).mark_text(text=" ").encode(x=alt.value(0), y=alt.value(0)).properties(width=166, height=H)


# ---------- build (a) ----------
pa = Panel([0, 15], [0, 5, 10, 15], 2)
pa.rect([(0, 15, -.19, .19, .025)])
recs = []
for i in range(len(a_out_x) - 1):
    recs.append((a_out_x[i], a_out_x[i + 1], .19, .3, a_out_top[i]))
    recs.append((a_out_x[i], a_out_x[i + 1], -.3, -.19, a_out_bot[i]))
pa.rect(recs)
for g, hw in a_iso:
    pa.iso(a_iso_x, g, hw)
lft, halo = [], []
for v0, v1, v2, v3, g0, g1, g2 in a_left:
    lft += poly(a_left_x, [v0, v1, v2, v3], [g0, g1, g2])
    halo += poly(a_left_x, [v0, v1, v2, v3], [g1, g1, g1])
pa.rule(halo, 18, .1)
pa.rule(halo, 8, .25)
pa.rule(lft, 3.5)
rgt = []
for xs, vs, gs in a_right:
    rgt += poly(xs, vs, gs)
pa.rule(rgt, 7, .25)
pa.rule(rgt, 2.2)
pa.rect([(x0, x1, v0 / 1000, v1 / 1000, g) for x0, x1, v0, v1, g in a_patches])
A = pa.finish("a")

# ---------- build (b) ----------
pb = Panel([50, 100], [50, 75, 100], 2)
pb.rect([(50, 100, -.19, .19, .02), (50, 100, .19, .3, .15), (50, 100, -.3, -.19, .07)])
core_h, core = [], []
for start, vals in b_levels:
    for i, v in enumerate(vals):
        L = start + i
        for sgn, bands in ((1, b_up_bands), (-1, b_lo_bands)):
            g = band_g(v, bands)
            core.append((L, L + 1, sgn * v / 1000, sgn * v / 1000, g))
            if g >= .4:
                core_h.append((L, L + 1, sgn * v / 1000, sgn * v / 1000, g * .6))
pb.rule(core_h, 9, .35)
pb.rule(core, 2.4)
for hw, g in b_halo:
    recs = []
    for k in range(50):
        L = 50 + k
        e = b_split[k] if k < len(b_split) else 0
        for s in (1, -1):
            recs.append((L, L + 1, (s * e - hw) / 1000, (s * e + hw) / 1000, g))
    pb.rect(recs)
pb.rect([(78 + i, 79 + i, -.0012, .0012, p) for i, p in enumerate(b_peak)])
B = pb.finish("b")

# ---------- build (c) ----------
pc = Panel([0, 15], [0, 5, 10, 15], 3)
pc.rect([(0, 15, -.19, .19, .03)])
for g, hw in c_iso:
    pc.iso(c_iso_x, g, [min(v, 110) for v in hw])
for g, hw in c_core:
    pc.iso(c_core_x, g, hw)
for g, hw in c_hole:
    pc.iso(c_hole_x, g, hw)
recs = []
for i in range(len(c_out_x) - 1):
    recs.append((c_out_x[i], c_out_x[i + 1], .19, .3, c_out_top[i]))
    recs.append((c_out_x[i], c_out_x[i + 1], -.3, -.19, c_out_bot[i]))
for vt, vb, gs in c_rows:
    for j, g in enumerate(gs):
        for s in (1, -1):
            recs.append((c_edges[j], c_edges[j + 1], s * vb / 1000, s * vt / 1000, g))
pc.rect(recs)
pc.rule(poly(*c_extra), 3.5)
tail = poly(*c_up) + poly(*c_dn)
pc.rule(tail, 10, .3)
pc.rule(tail, 4)
Vc = [txt("V", 462, 913, style="italic"), txt("c", 511, 927, size=58, style="italic"), txt("(meV)", 560, 913, size=80)]
C = pc.finish("c", Vc)

# ---------- build (d) ----------
pd_ = Panel([50, 100], [50, 75, 100], 2.5)
recs = [(50, 100, .19, .3, .84), (50, 100, -.3, -.19, .72)]
thick, thin = [], []
for k in range(50):
    L = 50 + k
    brk = d_break[k]
    if L <= 70:
        col = d_centre[L]
    else:
        col = [d_peak[k - 21], d_peak[k - 21]] + d_tail + [d_last[k - 21]]
    edges = d_edges + [brk]
    band = d_band[k]
    top = d_top[k]
    if L in d_second:
        sec = d_second[L]
        be = [190, top, min(top - .5, sec + 5), sec, 130, brk]
    else:
        be = [190, top, min(top - .5, 165), min(top - 1, 150), 130, brk]
    for s in (1, -1):
        for j, g in enumerate(col):
            recs.append((L, L + 1, s * edges[j] / 1000, s * edges[j + 1] / 1000, g))
        for j, g in enumerate(band):
            recs.append((L, L + 1, s * be[j + 1] / 1000, s * be[j] / 1000, g))
        recs.append((L, L + 1, s * 191 / 1000, s * 188.6 / 1000, .12))
        thick.append((L, L + 1, s * brk / 1000, s * brk / 1000, d_break_g[k]))
        thick.append((L, L + 1, s * top / 1000, s * top / 1000, d_top_g[k]))
        if L in d_mid:
            thin.append((L, L + 1, s * d_mid[L] / 1000, s * d_mid[L] / 1000, 1.3))
        if L in d_second:
            thick.append((L, L + 1, s * d_second[L] / 1000, s * d_second[L] / 1000, 1.7))
        if L in d_low:
            thick.append((L, L + 1, s * d_low[L] / 1000, s * d_low[L] / 1000, 1.7))
pd_.rect(recs)
pale = []
for start, vals in b_levels[2:]:
    for i, v in enumerate(vals):
        if v > 118:
            pale.append((start + i, start + i + 1, v / 1000, v / 1000, 1.2))
            pale.append((start + i, start + i + 1, -v / 1000, -v / 1000, 1.2))
pd_.rule(pale, 1.6, .5)
pd_.rule(thin, 2.6)
pd_.rule(thick, 3.2)
Lb = [txt("L", 477, 924, style="italic"), txt("(10nm)", 525, 924, size=80)]
D = pd_.finish("d", Lb)

chart = alt.concat(
    A, cbar(2, [0, 1, 2]), spacer(), B, cbar(2, [0, 1, 2]),
    C, cbar(3, [0, 1, 2, 3]), spacer(), D, cbar(2.5, [0, 1, 2]),
    columns=5, spacing={"row": 224, "column": 77}, bounds="flush", align="each",
).resolve_scale(color="independent", stroke="independent", x="independent", y="independent").configure_view(stroke=None).properties(
    padding={"left": 31, "top": 21, "right": 0, "bottom": 0}, background="white")

chart.save("out.html", embed_options={"renderer": "svg", "actions": False})
